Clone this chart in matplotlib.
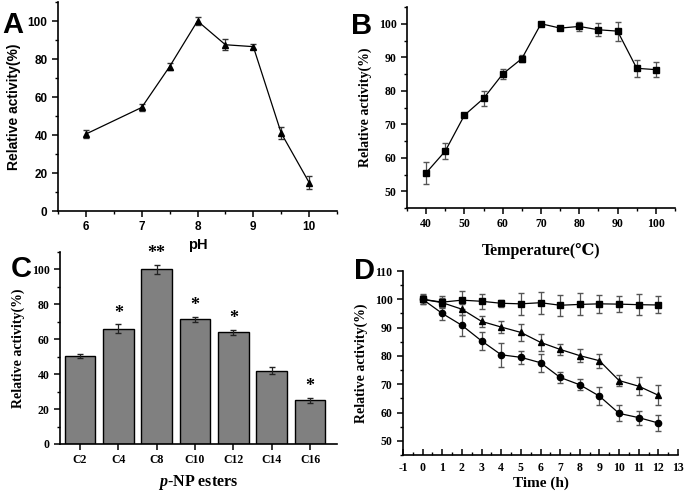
import matplotlib
matplotlib.use('Agg')
import matplotlib.pyplot as plt
from matplotlib.ticker import MultipleLocator

plt.rcParams['axes.unicode_minus'] = False
plt.rcParams['mathtext.fontset'] = 'custom'
plt.rcParams['mathtext.it'] = 'Liberation Serif:italic:bold'

# panel A: pH
ph = [6, 7, 7.5, 8, 8.5, 9, 9.5, 10]
ph_act = [40.5, 54.5, 76, 100, 87.5, 86.5, 41, 15]
ph_err = [2, 2, 2, 2, 3, 1.5, 3, 3.5]

# panel B: temperature
temp = [40, 45, 50, 55, 60, 65, 70, 75, 80, 85, 90, 95, 100]
temp_act = [55.5, 62, 72.7, 77.7, 85, 89.6, 100, 98.7, 99.2, 98.2, 97.8, 86.7, 86.3]
temp_err = [3.3, 2.5, 0.3, 2.2, 1.6, 1, 0.3, 0.5, 1.3, 2, 2.8, 2.5, 2.2]

# panel C: substrates
esters = ['C2', 'C4', 'C8', 'C10', 'C12', 'C14', 'C16']
ester_act = [50.5, 66, 100, 71.5, 64, 42, 25]
ester_err = [1, 2.5, 2.5, 1.5, 1.5, 2, 1.5]
ester_sig = ['', '*', '**', '*', '*', '', '*']

# panel D: stability over time
hours = [0, 1, 2, 3, 4, 5, 6, 7, 8, 9, 10, 11, 12]
stab_sq = [100, 99, 99.7, 99.3, 98.6, 98.4, 98.8, 97.9, 98.2, 98.4, 98.3, 98.1, 98]
stab_sq_err = [1.8, 2, 3.3, 2.7, 1.2, 3.8, 3.9, 3.7, 3.9, 3.2, 2.8, 3.6, 3.0]
stab_tri = [100, 98.8, 96.5, 92.2, 90.2, 88.3, 84.8, 82.3, 80.1, 78.3, 71.3, 69.3, 66.1]
stab_tri_err = [1, 1.5, 2, 2, 2.2, 3, 3, 1.8, 2.2, 2.5, 1.8, 3.2, 3.5]
stab_ci = [100, 95, 90.8, 85.3, 80.4, 79.5, 77.6, 72.4, 69.8, 65.8, 59.7, 58.2, 56.3]
stab_ci_err = [1.5, 2.2, 3.8, 3.2, 4.2, 2.3, 3.2, 2, 2, 3.2, 2.8, 2.5, 2.8]

SANS = ['Liberation Sans', 'DejaVu Sans']
SERIF = ['Liberation Serif', 'DejaVu Serif']
W, H = 685, 493


def make_axes(fig, left, right, top, bottom):
	ax = fig.add_axes([left / W, 1 - bottom / H, (right - left) / W, (bottom - top) / H])
	ax.spines['top'].set_visible(False)
	ax.spines['right'].set_visible(False)
	for s in ['left', 'bottom']:
		ax.spines[s].set_linewidth(1.2)
	ax.tick_params(which='major', direction='out', length=4, width=1.1)
	ax.tick_params(which='minor', direction='out', length=2.2, width=1)
	return ax


def style_ticks(ax, family, size=8.5):
	for lab in ax.get_xticklabels() + ax.get_yticklabels():
		lab.set_family(family)
		lab.set_fontweight('bold')
		lab.set_fontsize(size)


fig = plt.figure(figsize=(6.85, 4.93), dpi=100)

# A
ax = make_axes(fig, 58, 337, 2, 211)
ax.errorbar(ph, ph_act, yerr=ph_err, color='black', marker='^', markersize=5,
			linewidth=0.9, elinewidth=0.9, capsize=2, ecolor='#333333')
ax.set_xlim(5.5, 10.5)
ax.set_ylim(0, 110)
ax.xaxis.set_major_locator(MultipleLocator(1))
ax.xaxis.set_minor_locator(MultipleLocator(0.5))
ax.yaxis.set_major_locator(MultipleLocator(20))
ax.yaxis.set_minor_locator(MultipleLocator(10))
style_ticks(ax, SANS, 8.5)
ax.set_xlabel('pH', family=SANS, fontweight='bold', fontsize=10.5, labelpad=3)
ax.set_ylabel('Relative activity(%)', family=SANS, fontweight='bold', fontsize=10, labelpad=5)
fig.text(2 / W, 1 - 33 / H, 'A', family=SANS, fontweight='bold', fontsize=21)

# B
ax = make_axes(fig, 407, 675, 7, 208)
ax.errorbar(temp, temp_act, yerr=temp_err, color='black', marker='s', markersize=4,
			linewidth=0.9, elinewidth=0.9, capsize=2, ecolor='#555555')
ax.set_xlim(35, 105)
ax.set_ylim(45, 105)
ax.xaxis.set_major_locator(MultipleLocator(10))
ax.xaxis.set_minor_locator(MultipleLocator(5))
ax.yaxis.set_major_locator(MultipleLocator(10))
ax.yaxis.set_minor_locator(MultipleLocator(5))
style_ticks(ax, SERIF)
ax.set_xlabel('Temperature(\u2103)', family=SERIF, fontweight='bold', fontsize=11.5, labelpad=9)
ax.set_ylabel('Relative activity(%)', family=SERIF, fontweight='bold', fontsize=10, labelpad=5)
fig.text(351 / W, 1 - 34 / H, 'B', family=SANS, fontweight='bold', fontsize=21)

# C
ax = make_axes(fig, 60, 337, 252, 444)
xpos = list(range(len(esters)))
ax.bar(xpos, ester_act, width=0.8, color='#808080', edgecolor='black', linewidth=1,
	   yerr=ester_err, capsize=2, error_kw={'ecolor': '#222222', 'elinewidth': 0.9})
for i in xpos:
	if ester_sig[i]:
		ax.text(i, ester_act[i] + ester_err[i] + 1.5, ester_sig[i], ha='center', va='bottom',
				family=SERIF, fontweight='bold', fontsize=13)
ax.set_xlim(-0.52, 6.7)
ax.set_ylim(0, 110)
ax.set_xticks(xpos)
ax.set_xticklabels(esters)
ax.yaxis.set_major_locator(MultipleLocator(20))
ax.yaxis.set_minor_locator(MultipleLocator(10))
style_ticks(ax, SERIF)
ax.set_xlabel('$\\mathit{p}$-NP esters', family=SERIF, fontweight='bold', fontsize=11.5, labelpad=5)
ax.set_ylabel('Relative activity(%)', family=SERIF, fontweight='bold', fontsize=10, labelpad=5)
fig.text(11 / W, 1 - 277 / H, 'C', family=SANS, fontweight='bold', fontsize=21)

# D
ax = make_axes(fig, 403, 678, 271, 455)
for vals, errs, mk in [(stab_sq, stab_sq_err, 's'), (stab_tri, stab_tri_err, '^'), (stab_ci, stab_ci_err, 'o')]:
	ax.errorbar(hours, vals, yerr=errs, color='black', marker=mk, markersize=4.5,
				linewidth=0.9, elinewidth=0.9, capsize=2, ecolor='#555555')
ax.set_xlim(-1, 13)
ax.set_ylim(45, 110)
ax.xaxis.set_major_locator(MultipleLocator(1))
ax.xaxis.set_minor_locator(MultipleLocator(0.5))
ax.yaxis.set_major_locator(MultipleLocator(10))
ax.yaxis.set_minor_locator(MultipleLocator(5))
ax.tick_params(axis='x', which='both', direction='in')
ax.tick_params(axis='x', which='major', pad=5)
style_ticks(ax, SERIF)
ax.set_xlabel('Time (h)', family=SERIF, fontweight='bold', fontsize=11, labelpad=2)
ax.set_ylabel('Relative activity(%)', family=SERIF, fontweight='bold', fontsize=10, labelpad=5)
fig.text(354 / W, 1 - 279 / H, 'D', family=SANS, fontweight='bold', fontsize=21)

plt.savefig('out.png', dpi=100)
